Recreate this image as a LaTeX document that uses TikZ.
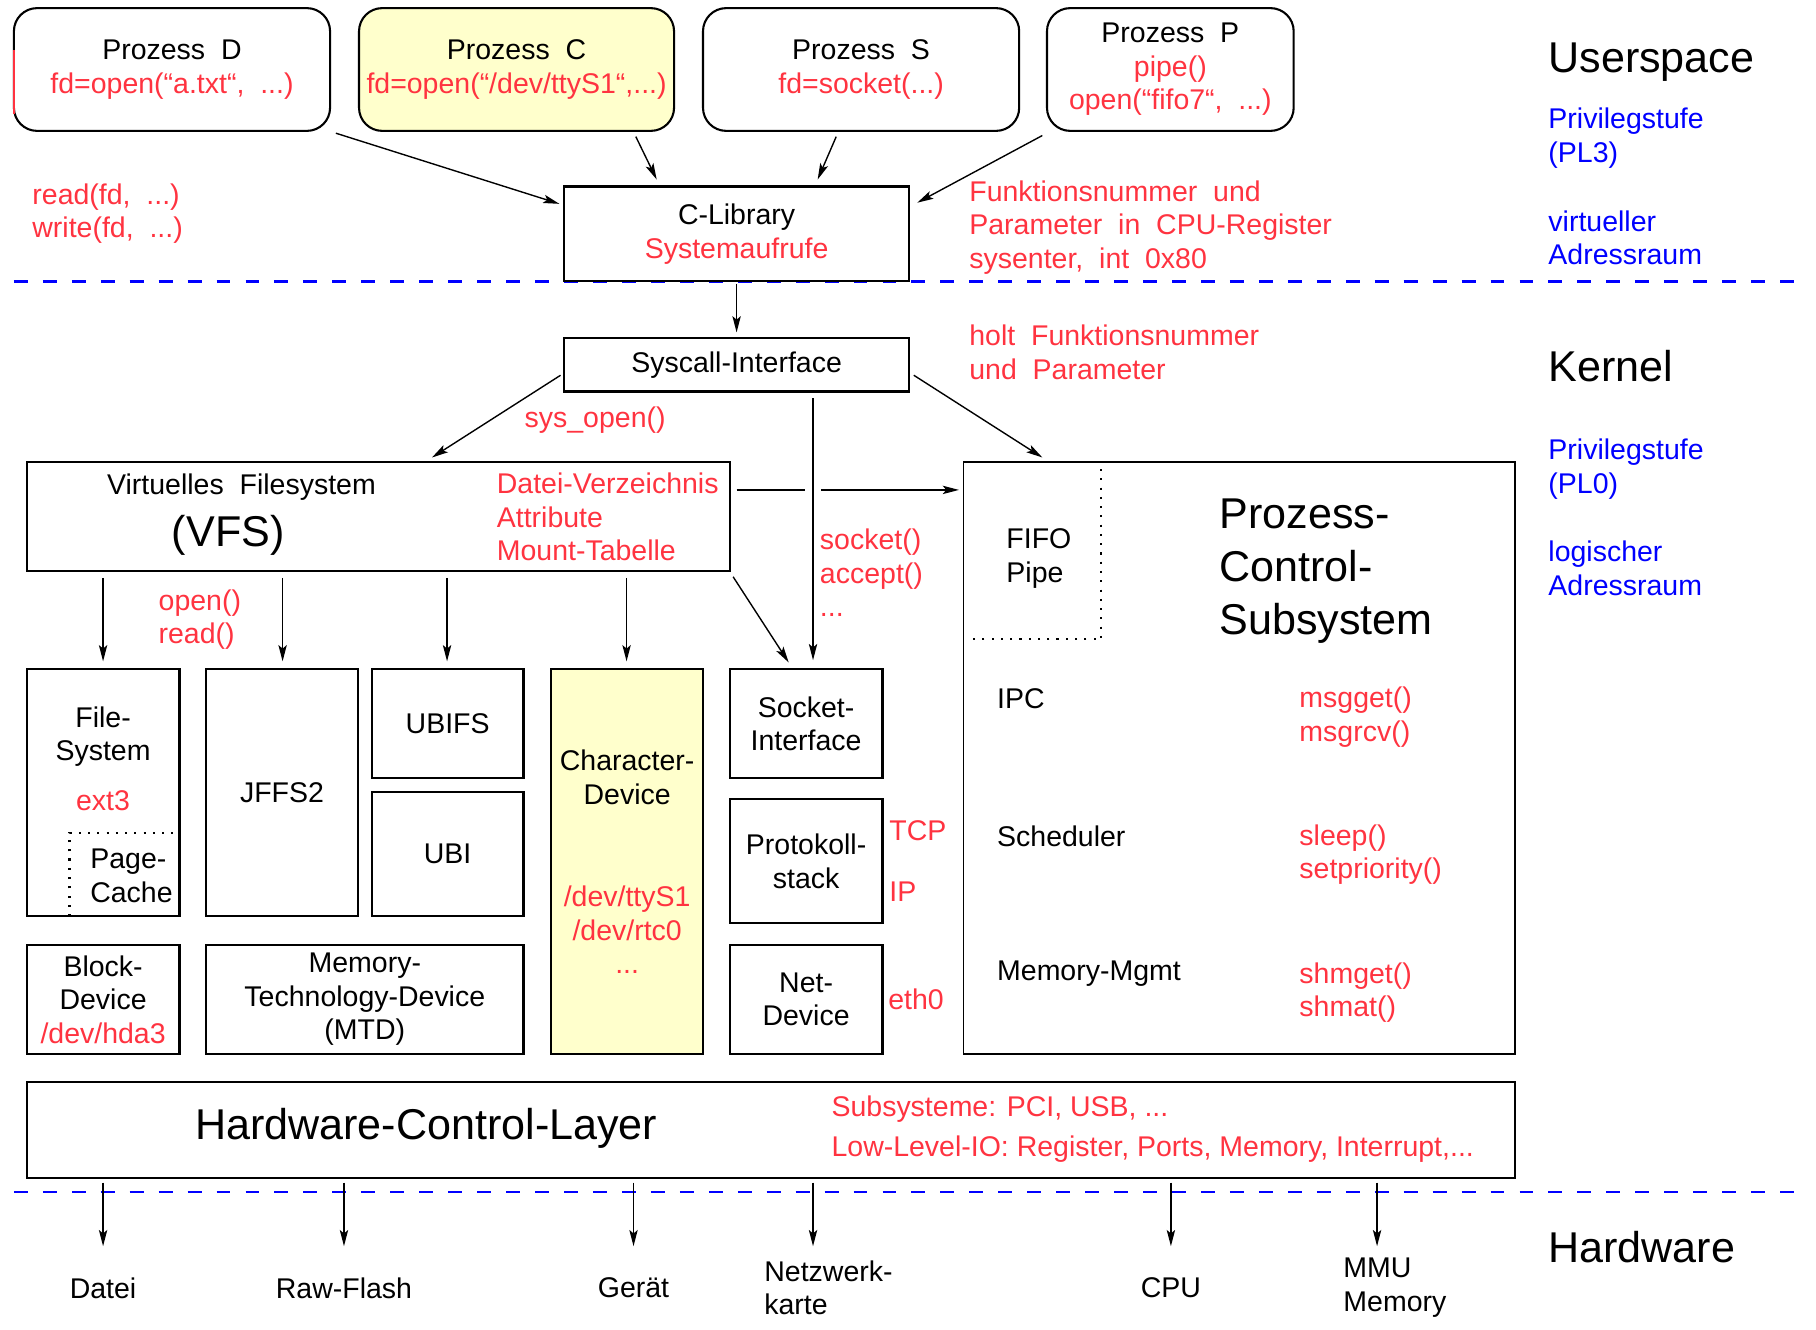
\documentclass[tikz,border=0pt]{standalone}
\usepackage{fontspec}
\setmainfont{Liberation Sans}
\usetikzlibrary{arrows.meta,calc}
\definecolor{myred}{RGB}{255,51,64}
\definecolor{myblue}{RGB}{0,0,255}
\definecolor{myyellow}{RGB}{255,255,204}
\newcommand{\myfn}{\fontsize{12.3}{14.5}\selectfont}
\newcommand{\mybig}{\fontsize{18.6}{23}\selectfont}
\begin{document}
\begin{tikzpicture}[x=0.5pt,y=-0.5pt,
  every node/.style={inner sep=0pt,outer sep=0pt,font=\myfn},
  box/.style={draw,line width=0.9pt,align=center},
  rbox/.style={box,rounded corners=10pt},
  arr/.style={line width=0.6pt,-{Stealth[length=7pt,width=3.6pt,inset=1.5pt]}},
  lbl/.style={anchor=west,align=left},
  ctr/.style={align=center},
  rt/.style={text=myred},
  bt/.style={text=myblue},
  sep/.style={draw=myblue,line width=1pt,dash pattern=on 6pt off 6.5pt},
  dotl/.style={line width=0.9pt,dash pattern=on 0.9pt off 3.1pt},
]
\useasboundingbox (0,0) rectangle (1568,1148);

% separators
\draw[sep] (12,243) -- (1555,243);
\draw[sep] (12,1029) -- (1555,1029);

% process boxes
\node[rbox,minimum width=136.5pt,minimum height=53pt] (pd) at (148.5,60) {Prozess\ \ D\\\textcolor{myred}{fd=open(“a.txt“,\ \ ...)}};
\draw[myred,line width=0.9pt] ($(pd.west)+(0,-17)$) -- ($(pd.west)+(0,38)$);
\node[rbox,fill=myyellow,minimum width=136pt,minimum height=53pt] (pc) at (446,60) {Prozess\ \ C\\\textcolor{myred}{fd=open(“/dev/ttyS1“,...)}};
\node[rbox,minimum width=136.5pt,minimum height=53pt] (ps) at (743.5,60) {Prozess\ \ S\\\textcolor{myred}{fd=socket(...)}};
\node[rbox,minimum width=106.5pt,minimum height=53pt] (pp) at (1010.5,60) {Prozess\ \ P\\\textcolor{myred}{pipe()}\\\textcolor{myred}{open(“fifo7“,\ \ ...)}};

% main boxes
\node[box,fill=white,minimum width=149pt,minimum height=41pt] (clib) at (636,202) {C-Library\\\textcolor{myred}{Systemaufrufe}};
\node[box,minimum width=149pt,minimum height=23pt] (sys) at (636,315) {Syscall-Interface};
\node[box,minimum width=303.5pt,minimum height=47pt] (vfs) at (326.5,446) {};
\node[box,line width=0.7pt,minimum width=238pt,minimum height=255.5pt] (pcs) at (1070,654.5) {};
\node[box,minimum width=66pt,minimum height=106.5pt] (fs) at (89,684.5) {};
\node[box,minimum width=65.5pt,minimum height=106.5pt] (jffs) at (243.5,684.5) {JFFS2};
\node[box,minimum width=65.5pt,minimum height=47pt] (ubifs) at (386.5,625) {UBIFS};
\node[box,minimum width=65.5pt,minimum height=53.5pt] (ubi) at (386.5,737.5) {UBI};
\node[box,fill=myyellow,minimum width=65.5pt,minimum height=166pt] (cd) at (541.5,744) {};
\node[box,minimum width=66pt,minimum height=47pt] (sock) at (696,625) {Socket-\\Interface};
\node[box,minimum width=66pt,minimum height=53.5pt] (proto) at (696,743.5) {Protokoll-\\stack};
\node[box,minimum width=66pt,minimum height=47pt] (net) at (696,863) {Net-\\Device};
\node[box,minimum width=66pt,minimum height=47pt] (blk) at (89,863) {Block-\\Device\\\textcolor{myred}{/dev/hda3}};
\node[box,minimum width=137pt,minimum height=47pt] (mtd) at (315,863) {Memory-\\Technology-Device\\(MTD)};
\node[box,minimum width=642.5pt,minimum height=41.5pt] (hcl) at (665.5,975.5) {};

% texts
\node[lbl,rt] (rdwr) at (28,184.5) {read(fd,\ \ ...)\\write(fd,\ \ ...)};
\node[lbl,rt] (funk) at (837,196.5) {Funktionsnummer\ \ und\\Parameter\ \ in\ \ CPU-Register\\sysenter,\ \ int\ \ 0x80};
\node[lbl,rt] (holt) at (837,304) {holt\ \ Funktionsnummer\\und\ \ Parameter};
\node[lbl,rt] (sysopen) at (453,363) {sys\_open()};
\node[ctr] (vfstitle) at (208.5,421) {Virtuelles\ \ Filesystem};
\node[ctr,font=\mybig] (vfsbig) at (197,462) {(VFS)};
\node[lbl,rt] (dvz) at (429,446.5) {Datei-Verzeichnis\\Attribute\\Mount-Tabelle};
\node[lbl,rt] (openread) at (137,535) {open()\\read()};
\node[lbl,rt] (sockacc) at (708,494.5) {socket()\\accept()\\...};
\node[ctr] (fstext) at (89,636) {File-\\System};
\node[ctr,rt] (ext3) at (89,691) {ext3};
\node[lbl] (pagecache) at (78,756) {Page-\\Cache};
\node[ctr] (cdtext) at (541.5,671) {Character-\\Device};
\node[ctr,rt] (cddev) at (541.5,803) {/dev/ttyS1\\/dev/rtc0\\...};
\node[lbl,rt] (tcp) at (768,717) {TCP};
\node[lbl,rt] (ip) at (768,770) {IP};
\node[lbl,rt] (eth) at (767,863) {eth0};
\node[lbl] (fifo) at (869,482) {FIFO\\Pipe};
\node[lbl,font=\mybig] (pcsbig) at (1053,493) {Prozess-\\Control-\\Subsystem};
\node[lbl] (ipc) at (861,603) {IPC};
\node[lbl,rt] (msg) at (1122,619) {msgget()\\msgrcv()};
\node[lbl] (sched) at (861,722) {Scheduler};
\node[lbl,rt] (sleep) at (1122,738) {sleep()\\setpriority()};
\node[lbl] (memm) at (861,841) {Memory-Mgmt};
\node[lbl,rt] (shm) at (1122,857) {shmget()\\shmat()};
\node[ctr,font=\mybig] (hcltext) at (368,974) {Hardware-Control-Layer};
\node[lbl,rt] (hclred) at (718,975) {Subsysteme: PCI, USB, ...\\[3pt]Low-Level-IO: Register, Ports, Memory, Interrupt,...};
\node[ctr] (datei) at (89,1112) {Datei};
\node[ctr] (raw) at (297,1112) {Raw-Flash};
\node[ctr] (geraet) at (547,1112) {Gerät};
\node[lbl] (netz) at (660,1112) {Netzwerk-\\karte};
\node[ctr] (cpu) at (1011,1112) {CPU};
\node[lbl] (mmu) at (1160,1112) {MMU\\Memory};
\node[lbl,font=\mybig] (user) at (1337,54) {Userspace};
\node[lbl,bt] (priv3) at (1337,119) {Privilegstufe\\(PL3)};
\node[lbl,bt] (virt) at (1337,205.5) {virtueller\\Adressraum};
\node[lbl,font=\mybig] (kern) at (1337,316) {Kernel};
\node[lbl,bt] (priv0) at (1337,405) {Privilegstufe\\(PL0)};
\node[lbl,bt] (logi) at (1337,490.5) {logischer\\Adressraum};
\node[lbl,font=\mybig] (hw) at (1337,1076.5) {Hardware};

% dotted lines
\draw[dotl] ($(fs.south west)+(37,0)$) -- ($(fs.south west)+(37,-72)$) -- ($(fs.south east)+(-3,-72)$);
\draw[dotl] ($(pcs.north west)+(119,6)$) -- ($(pcs.north west)+(119,153)$) -- ($(pcs.north west)+(4,153)$);

% arrows userspace
\draw[arr] ($(pd.south east)+(5,2)$) -- ($(clib.north west)+(-4,15)$);
\draw[arr] ($(pc.south)+(103,5)$) -- ($(clib.north west)+(80,-6)$);
\draw[arr] ($(ps.south)+(-21.5,5)$) -- ($(clib.north)+(70,-6)$);
\draw[arr] ($(pp.south west)+(-4,4)$) -- ($(clib.north east)+(7,14)$);
\draw[arr] ($(clib.south)+(0,2)$) -- ($(sys.north)+(0,-5)$);

% arrows kernel
\draw[arr] ($(sys.west)+(-3,9)$) -- ($(vfs.north)+(46.5,-4)$);
\draw[arr] ($(sys.south)+(66,6)$) -- ($(sock.north)+(6,-8)$);
\draw[arr] ($(sys.east)+(4,9)$) -- ($(pcs.north west)+(68,-4)$);
\draw[line width=0.6pt] ($(vfs.north east)+(6,24)$) -- ($(vfs.north east)+(65,24)$);
\draw[arr] ($(vfs.north east)+(79,24)$) -- ($(pcs.north west)+(-4,24)$);
\draw[arr] ($(vfs.south west)+(66,6)$) -- ($(fs.north)+(0,-7)$);
\draw[arr] ($(vfs.south west)+(221,6)$) -- ($(jffs.north)+(0.5,-7)$);
\draw[arr] ($(vfs.south west)+(363,6)$) -- ($(ubifs.north)+(-0.5,-7)$);
\draw[arr] ($(vfs.south west)+(518,6)$) -- ($(cd.north)+(-0.5,-7)$);
\draw[arr] ($(vfs.south east)+(3,5)$) -- ($(sock.north)+(-15,-6)$);

% arrows hardware
\draw[arr] ($(hcl.south west)+(66,4)$) -- ++(0,55);
\draw[arr] ($(hcl.south west)+(274,4)$) -- ++(0,55);
\draw[arr] ($(hcl.south west)+(524,4)$) -- ++(0,55);
\draw[arr] ($(hcl.south west)+(679,4)$) -- ++(0,55);
\draw[arr] ($(hcl.south west)+(988,4)$) -- ++(0,55);
\draw[arr] ($(hcl.south west)+(1166,4)$) -- ++(0,55);
\end{tikzpicture}
\end{document}
